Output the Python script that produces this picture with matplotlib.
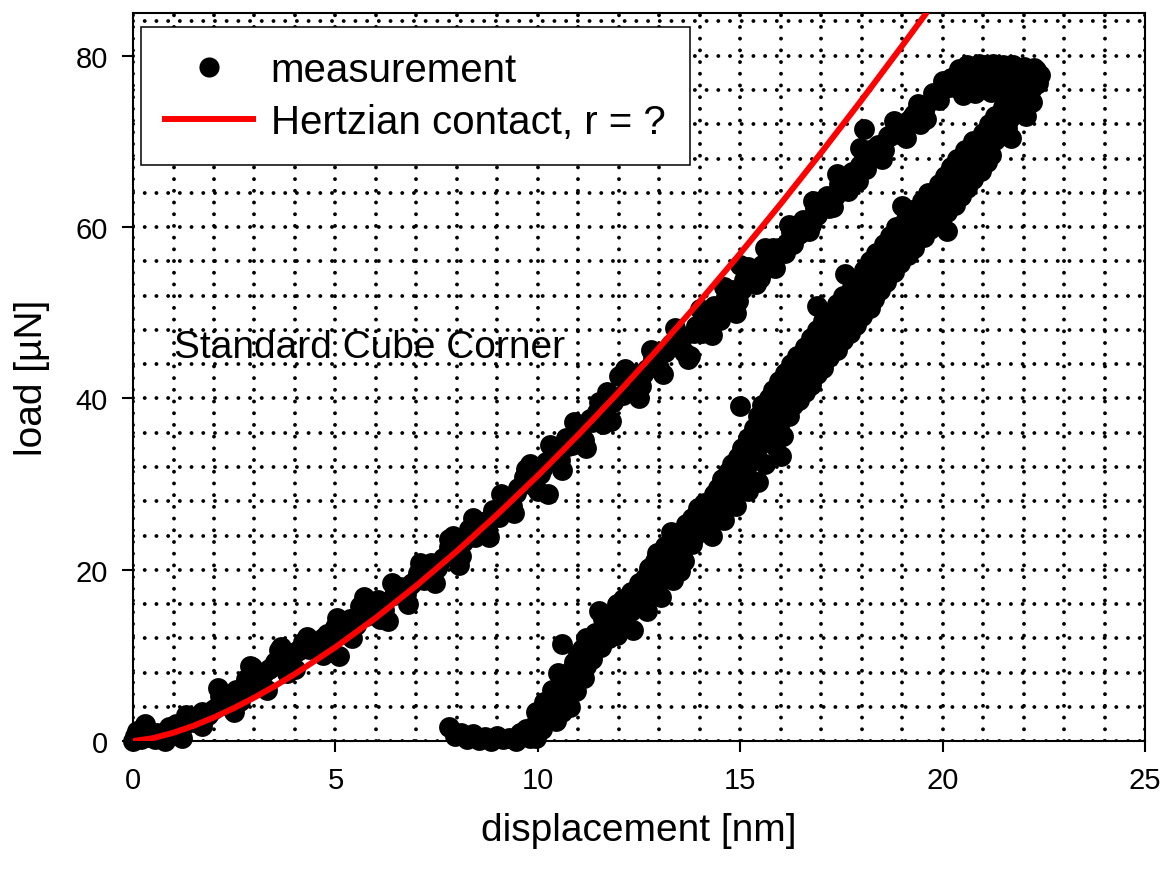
import numpy as np
import matplotlib
matplotlib.use("Agg")
import matplotlib.pyplot as plt
from matplotlib.ticker import MultipleLocator
from matplotlib.lines import Line2D

plt.rcParams['font.family'] = ['Liberation Sans', 'DejaVu Sans']

# --- measured load-displacement data (displacement in nm, load in uN) ---
# loading branch
load_x = [0.00, 0.05, 0.10, 0.20, 0.25, 0.35, 0.45, 0.55, 0.70, 0.90, 1.05, 1.20, 1.25, 1.40,
          1.55, 1.70, 1.85, 2.00, 2.15, 2.25, 2.40, 2.55, 2.65, 2.80, 2.95, 3.05, 3.20, 3.35,
          3.50, 3.65, 3.80, 3.90, 4.05, 4.20, 4.35, 4.50, 4.70, 4.85, 5.00, 5.10, 5.20, 5.35,
          5.50, 5.60, 5.75, 5.90, 6.05, 6.20, 6.30, 6.45, 6.60, 6.75, 6.90, 7.05, 7.20, 7.35,
          7.50, 7.65, 7.80, 7.90, 8.05, 8.15, 8.30, 8.45, 8.60, 8.75, 8.90, 9.05, 9.20, 9.35,
          9.50, 9.65, 9.80, 9.90, 10.05, 10.20, 10.25, 10.40, 10.55, 10.70, 10.85, 11.00, 11.15,
          11.30, 11.45, 11.60, 11.70, 11.85, 12.00, 12.10, 12.25, 12.40, 12.55, 12.70, 12.85,
          13.00, 13.15, 13.30, 13.45, 13.60, 13.75, 13.90, 14.05, 14.20, 14.35, 14.50, 14.65,
          14.80, 14.95, 15.10, 15.25, 15.40, 15.55, 15.70, 15.85, 16.00, 16.15, 16.30, 16.45,
          16.60, 16.75, 16.90, 17.05, 17.20, 17.35, 17.50, 17.65, 17.80, 17.95, 18.05, 18.10,
          18.25, 18.40, 18.55, 18.70, 18.85, 19.00, 19.15, 19.30, 19.45, 19.60, 19.75, 19.90,
          20.05]
load_y = [0.0, 0.6, 1.2, 0.3, 1.3, 0.5, 1.0, 0.2, 0.8, 1.6, 2.0, 0.4, 1.9, 2.8,
          2.4, 3.4, 3.0, 3.8, 5.3, 4.2, 4.9, 6.0, 4.7, 7.2, 8.6, 6.4, 7.8, 8.4,
          9.2, 11.0, 8.0, 9.8, 10.5, 11.6, 10.8, 11.2, 12.0, 11.5, 13.3, 9.9, 12.6, 14.2,
          13.5, 15.8, 14.6, 15.2, 16.5, 15.3, 14.0, 17.0, 18.0, 17.2, 18.4, 19.6, 18.8, 20.8,
          20.2, 21.4, 22.6, 24.0, 20.6, 23.2, 24.8, 23.8, 25.6, 24.9, 27.0, 26.2, 28.2, 27.4,
          29.6, 30.8, 32.4, 29.8, 31.2, 32.6, 28.8, 33.8, 32.8, 35.4, 34.6, 36.0, 35.2,
          37.6, 38.4, 37.0, 40.8, 39.6, 42.6, 40.4, 41.6, 42.8, 41.4, 43.4, 44.6,
          43.6, 45.4, 46.4, 47.6, 45.4, 45.0, 48.4, 47.6, 49.6, 50.8, 49.2, 51.8,
          52.6, 51.4, 53.8, 54.6, 53.4, 55.6, 56.4, 55.2, 57.2, 58.2, 58.0, 59.2,
          60.4, 60.2, 61.4, 62.4, 62.2, 63.6, 64.8, 64.2, 66.0, 67.2, 71.4, 66.8,
          68.2, 69.6, 69.0, 70.6, 71.6, 70.8, 72.4, 73.2, 72.0, 74.2, 75.6, 74.8,
          76.2]
load2_x = [0.15, 0.60, 1.00, 1.50, 1.90, 2.30, 2.70, 3.10, 3.45, 3.75, 4.10, 4.45, 4.80,
           5.15, 5.45, 5.80, 6.15, 6.50, 6.85, 7.20, 7.55, 7.90, 8.20, 8.55, 8.85, 9.15,
           9.45, 9.75, 10.10, 10.40, 10.75, 11.05, 11.35, 11.65, 11.95, 12.30, 12.60, 12.95,
           13.25, 13.55, 13.85, 14.15, 14.45, 14.75, 15.05, 15.35, 15.65, 15.95, 16.25, 16.55,
           16.85, 17.15, 17.45, 17.75, 18.05, 18.35, 18.65, 18.95, 19.25, 19.55, 19.85, 20.15]
load2_y = [0.8, 0.9, 1.2, 2.2, 3.4, 4.6, 6.0, 7.4, 8.8, 9.6, 10.6, 11.6, 12.5,
           13.4, 14.4, 15.4, 16.2, 17.2, 18.2, 19.4, 20.8, 22.2, 23.6, 25.0, 26.2, 27.6,
           29.0, 30.4, 31.8, 33.0, 34.4, 35.8, 37.2, 38.6, 40.2, 41.8, 42.8, 44.6,
           46.0, 47.0, 47.6, 48.8, 50.2, 51.6, 52.8, 54.2, 55.2, 57.6, 59.4, 60.8,
           62.2, 63.6, 65.0, 66.4, 67.8, 69.4, 70.6, 71.8, 72.8, 73.6, 75.4, 76.4]
load3_x = [0.30, 0.80, 1.30, 1.70, 2.10, 2.50, 2.90, 3.30, 3.60, 4.00, 4.30, 4.70, 5.05,
           5.40, 5.70, 6.10, 6.40, 6.80, 7.10, 7.45, 7.80, 8.10, 8.40, 8.80, 9.10, 9.40,
           9.70, 10.00, 10.30, 10.60, 10.90, 11.20, 11.50, 11.80, 12.15, 12.50, 12.80, 13.10,
           13.40, 13.70, 14.00, 14.30, 14.60, 14.90, 15.20, 15.50, 15.80, 16.10, 16.40, 16.70,
           17.00, 17.30, 17.60, 17.90, 18.20, 18.50, 18.80, 19.10, 19.40, 19.60, 20.00,
           15.00, 15.60, 16.20, 16.80, 17.40, 17.95]
load3_y = [2.0, 0.0, 3.0, 1.8, 6.2, 3.4, 8.8, 6.0, 10.6, 8.4, 12.2, 10.0, 14.4,
           12.0, 16.8, 14.2, 18.4, 16.0, 20.8, 18.4, 23.6, 21.6, 26.0, 23.8, 28.8, 26.6,
           31.8, 29.2, 34.6, 31.6, 37.2, 34.2, 39.6, 37.4, 43.4, 40.0, 45.6, 42.8,
           48.2, 44.6, 50.4, 47.4, 53.0, 50.0, 55.4, 54.0, 57.6, 57.0, 60.0, 59.6,
           63.0, 62.4, 65.8, 65.4, 69.0, 68.0, 72.4, 70.4, 74.4, 72.6, 77.0,
           55.6, 57.6, 60.2, 63.0, 66.2, 69.2]

# cluster at maximum load
top_x = [20.2, 20.4, 20.5, 20.6, 20.75, 20.9, 21.0, 21.1, 21.25, 21.35, 21.5, 21.6, 21.75,
         21.9, 22.0, 22.15, 22.3, 22.4, 21.2, 20.8, 21.8, 22.1, 20.3, 20.55, 20.7, 20.95,
         21.05, 21.15, 21.4, 21.45, 21.65, 21.7, 21.85, 22.05, 22.25, 22.35, 20.5]
top_y = [77.4, 78.4, 76.6, 78.9, 77.6, 79.0, 77.0, 78.5, 79.0, 77.8, 78.9, 77.2, 78.9,
         78.0, 78.7, 77.4, 78.3, 77.8, 75.8, 75.6, 76.4, 75.8, 76.4, 77.6, 78.6, 78.0,
         78.9, 76.8, 78.4, 76.2, 78.2, 78.9, 77.0, 77.8, 78.6, 76.8, 75.4]

# unloading branch
unload_x = [9.75, 9.95, 10.05, 9.95, 10.25, 10.45, 10.15, 10.55, 10.8, 10.35, 10.7, 10.95,
            10.5, 10.85, 11.15, 10.6, 11.0, 11.35, 11.2, 11.55, 11.5, 11.7, 11.95, 11.85,
            12.15, 12.35, 12.1, 12.45, 12.7, 12.5, 12.8, 13.05, 12.75, 13.1, 13.35, 12.95,
            13.3, 13.6, 13.45, 13.8, 13.65, 14.0, 14.3, 13.95, 14.3, 14.6, 14.35, 14.65,
            14.9, 14.55, 14.9, 15.2, 14.8, 15.15, 15.45, 16.0, 15.05, 15.4, 15.7, 15.0,
            15.35, 15.6, 15.95, 15.55, 15.85, 16.2, 15.8, 16.15, 16.45, 16.1, 16.45, 16.75,
            16.4, 16.75, 17.05, 16.9, 16.75, 17.1, 17.4, 17.05, 17.4, 17.7, 17.6, 17.4,
            17.75, 18.0, 17.75, 18.05, 18.3, 18.05, 18.35, 18.6, 18.35, 18.65, 18.95, 18.7,
            19.0, 19.3, 19.0, 19.1, 19.4, 19.7, 20.1, 19.5, 19.8, 20.1, 19.9, 20.2,
            20.45, 20.2, 20.5, 20.75, 20.55, 20.85, 21.1, 21.0, 21.3, 21.6, 21.3, 21.65,
            21.95, 22.2, 22.0, 21.6]
unload_y = [1.0, 0.4, 2.2, 3.4, 3.0, 2.4, 4.6, 4.8, 4.0, 6.0, 6.6, 5.8,
            8.0, 8.4, 7.4, 11.3, 10.2, 9.6, 12.0, 11.0, 15.2, 13.2, 12.4, 15.0,
            14.2, 13.0, 16.6, 16.0, 15.2, 18.4, 17.6, 16.8, 20.2, 19.6, 18.8, 22.0,
            21.6, 21.0, 23.6, 23.0, 25.4, 24.6, 24.0, 27.2, 26.6, 25.8, 28.8, 28.2,
            27.4, 30.6, 30.0, 29.2, 32.4, 31.8, 30.2, 33.3, 34.2, 33.6, 35.0, 39.1,
            36.6, 37.4, 36.6, 39.2, 38.6, 38.0, 41.0, 40.6, 39.8, 43.0, 42.4, 41.6,
            45.0, 44.4, 43.6, 50.8, 47.0, 46.4, 45.6, 49.0, 48.4, 47.6, 54.5, 51.0,
            50.4, 49.6, 53.0, 52.4, 51.6, 55.0, 54.4, 53.6, 57.0, 56.4, 55.8, 59.0,
            58.4, 57.6, 62.5, 61.0, 60.4, 59.8, 59.6, 63.0, 62.4, 61.8, 65.0, 64.4,
            63.6, 67.0, 66.4, 65.6, 69.0, 68.4, 67.6, 71.0, 70.2, 71.6, 73.0, 72.6,
            73.8, 74.6, 75.6, 75.0]
unload2_x = [9.85, 10.1, 10.15, 10.35, 10.5, 10.6, 10.75, 10.65, 10.95, 10.9, 11.2, 11.1,
             11.4, 11.4, 11.75, 11.6, 12.0, 11.95, 12.3, 12.3, 12.6, 12.65, 12.95, 12.9,
             13.2, 13.5, 13.15, 13.45, 13.3, 13.6, 13.85, 13.8, 14.15, 14.1, 14.45, 14.45,
             14.75, 14.7, 15.0, 15.3, 14.95, 15.3, 15.6, 15.2, 15.55, 15.85, 15.45, 15.75,
             16.05, 15.7, 16.0, 16.3, 15.95, 16.3, 16.6, 16.25, 16.6, 16.9, 16.6, 16.9,
             17.2, 16.9, 17.25, 17.55, 17.2, 17.55, 17.85, 17.55, 17.9, 18.2, 17.9, 18.2,
             18.45, 18.2, 18.5, 18.8, 18.55, 18.85, 19.15, 18.85, 19.25, 19.55, 19.25, 19.6,
             19.9, 19.65, 19.95, 20.3, 20.05, 20.35, 20.6, 20.35, 20.7, 20.95, 20.75, 21.05,
             21.2, 21.15, 21.45, 21.7, 21.5, 21.8, 22.05, 21.85, 22.2]
unload2_y = [1.6, 1.4, 3.6, 4.0, 5.6, 3.4, 5.2, 7.4, 7.0, 9.2, 8.8, 10.8,
             10.6, 12.6, 12.0, 14.2, 13.6, 16.0, 15.2, 17.4, 16.8, 19.0, 18.2, 21.0,
             20.4, 19.8, 22.8, 22.4, 24.4, 24.2, 23.8, 26.0, 25.4, 27.8, 27.2, 29.6,
             29.0, 31.4, 30.8, 30.4, 33.2, 32.8, 32.4, 35.4, 34.8, 34.4, 38.0, 36.0,
             35.6, 40.0, 39.6, 39.2, 42.0, 41.4, 40.8, 44.0, 43.4, 42.8, 46.0, 45.4,
             44.8, 48.0, 47.4, 46.8, 50.0, 49.4, 48.6, 52.0, 51.4, 50.6, 54.0, 53.4,
             52.6, 56.0, 55.4, 54.8, 58.0, 57.4, 56.8, 60.0, 59.0, 58.8, 62.0, 61.2,
             60.6, 64.0, 63.4, 62.6, 66.0, 65.4, 64.6, 68.0, 67.4, 66.6, 70.0, 69.4,
             68.4, 72.0, 71.0, 70.4, 74.0, 73.2, 73.0, 75.4, 76.2]

# tip fully withdrawn, load back at zero
base_x = [7.8, 7.95, 8.1, 8.25, 8.4, 8.55, 8.7, 8.85, 9.0, 9.15, 9.3, 9.45, 9.55, 9.7, 9.8]
base_y = [1.6, 0.6, 1.0, 0.2, 0.8, 0.1, 0.5, 0.0, 0.6, 0.2, 0.4, 0.0, 0.9, 1.4, 0.4]

# Hertzian contact fit
fit_x = [0.0, 0.5, 1.0, 1.5, 2.0, 2.5, 3.0, 3.5, 4.0, 5.0, 6.0, 7.0, 8.0, 9.0, 10.0,
         11.0, 12.0, 13.0, 14.0, 15.0, 16.0, 17.0, 18.0, 19.0, 19.6]
fit_y = [0.0, 0.35, 0.98, 1.80, 2.77, 3.87, 5.09, 6.42, 7.84, 10.96, 14.40, 18.15, 22.17,
         26.46, 30.99, 35.75, 40.74, 45.94, 51.34, 56.93, 62.72, 68.69, 74.84, 81.16, 85.0]

meas_x = load_x + load2_x + load3_x + top_x + unload_x + unload2_x + base_x
meas_y = load_y + load2_y + load3_y + top_y + unload_y + unload2_y + base_y

fig = plt.figure(figsize=(11.69, 8.70), dpi=100)
ax = fig.add_axes([0.1138, 0.147, 0.8657, 0.837])

ax.plot(meas_x, meas_y, 'o', color='black', ms=15, mew=0, clip_on=False, zorder=3)
ax.plot(fit_x, fit_y, '-', color='#ff0000', lw=4.3, solid_capstyle='round', zorder=4)

ax.set_xlim(0, 25)
ax.set_ylim(0, 85)
ax.set_xticks([0, 5, 10, 15, 20, 25])
ax.set_yticks([0, 20, 40, 60, 80])
ax.xaxis.set_minor_locator(MultipleLocator(1))
ax.yaxis.set_minor_locator(MultipleLocator(4))
ax.tick_params(which='major', direction='out', length=8, width=1.5, labelsize=21, pad=10)
ax.tick_params(which='minor', length=0)
for s in ax.spines.values():
    s.set_linewidth(1.5)

# dotted grid
ax.grid(True, which='both', color='black', lw=2.8, linestyle=(0, (0.01, 3.0)),
        dash_capstyle='round')
ax.set_axisbelow(True)

ax.set_xlabel('displacement [nm]', fontsize=28)
ax.set_ylabel('load [µN]', fontsize=28)
ax.xaxis.set_label_coords(0.5, -0.098)
ax.yaxis.set_label_coords(-0.082, 0.5)

ax.text(1.0, 46.0, 'Standard Cube Corner', fontsize=28, ha='left', va='center', zorder=2)

handles = [Line2D([], [], ls='none', marker='o', color='black', ms=14.5, mew=0),
           Line2D([], [], color='#ff0000', lw=4.3)]
leg = ax.legend(handles, ['measurement', 'Hertzian contact, r = ?'],
                loc='upper left', bbox_to_anchor=(0.008, 0.981), borderaxespad=0,
                fontsize=29, frameon=True, fancybox=False, framealpha=1,
                edgecolor='black', handlelength=2.17, handletextpad=0.45,
                borderpad=0.6, labelspacing=0.35)
leg.get_frame().set_linewidth(1.1)
leg.set_zorder(5)

fig.savefig('out.png', dpi=100, facecolor='white')
